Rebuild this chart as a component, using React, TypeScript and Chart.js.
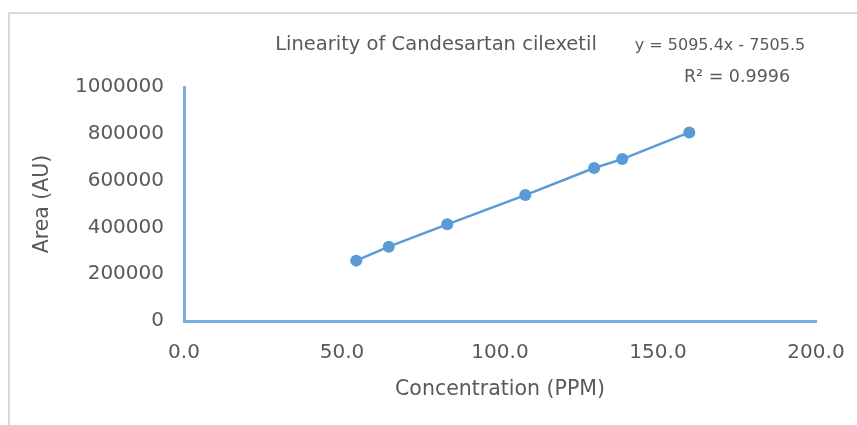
import React, { useEffect, useRef } from "react";
import { Chart, registerables } from "chart.js";

Chart.register(...registerables);

const concentrations = [54.5, 64.8, 83.3, 108.0, 129.8, 138.7, 159.9];
const areas = [258000, 317500, 413000, 538000, 654000, 692000, 806000];
const xTicks = [0, 50, 100, 150, 200];
const yTicks = [0, 200000, 400000, 600000, 800000, 1000000];
const chartTitle = "Linearity of Candesartan cilexetil";
const equationText = "y = 5095.4x - 7505.5";
const r2Text = "R² = 0.9996";
const xTitle = "Concentration (PPM)";
const yTitle = "Area (AU)";

const FONT = "'DejaVu Sans', sans-serif";
const TEXT = "#595959";
const AXIS = "#78aee0";
const SERIES = "#5b9bd5";

const overlay = {
  id: "overlay",
  beforeDraw(chart: any) {
    const ctx = chart.ctx;
    ctx.save();
    ctx.fillStyle = "#ffffff";
    ctx.fillRect(0, 0, chart.width, chart.height);
    ctx.strokeStyle = "#d9d9d9";
    ctx.lineWidth = 2;
    ctx.beginPath();
    ctx.moveTo(9, chart.height);
    ctx.lineTo(9, 13);
    ctx.lineTo(chart.width, 13);
    ctx.stroke();
    ctx.restore();
  },
  afterDraw(chart: any) {
    const ctx = chart.ctx;
    ctx.save();
    ctx.fillStyle = TEXT;
    ctx.textAlign = "center";
    ctx.textBaseline = "middle";
    ctx.font = `19.5px ${FONT}`;
    ctx.fillText(chartTitle, 436, 45);
    ctx.font = `16px ${FONT}`;
    ctx.fillText(equationText, 720, 46);
    ctx.font = `17.5px ${FONT}`;
    ctx.fillText(r2Text, 737, 77);
    ctx.restore();
  },
};

export default function App() {
  const ref = useRef<HTMLCanvasElement | null>(null);
  useEffect(() => {
    document.body.style.margin = "0";
    const canvas = ref.current;
    if (!canvas) return;
    const chart = new Chart(canvas, {
      type: "scatter",
      data: {
        datasets: [
          {
            data: concentrations.map((x, i) => ({ x, y: areas[i] })),
            showLine: true,
            borderColor: SERIES,
            backgroundColor: SERIES,
            borderWidth: 2.5,
            pointRadius: 6,
            pointBorderWidth: 0,
          },
        ],
      },
      options: {
        animation: false,
        responsive: false,
        events: [],
        layout: { padding: { left: 0, right: 41, top: 87, bottom: 0 } },
        plugins: { legend: { display: false }, tooltip: { enabled: false } },
        scales: {
          x: {
            type: "linear",
            min: 0,
            max: 200,
            afterBuildTicks: (s: any) => {
              s.ticks = xTicks.map((v) => ({ value: v }));
            },
            afterFit: (s: any) => {
              s.height = 104;
              s.paddingLeft = 0;
              s.paddingRight = 0;
            },
            grid: { color: "transparent", drawTicks: false },
            border: { display: true, color: AXIS, width: 3 },
            ticks: {
              color: TEXT,
              font: { family: FONT, size: 20 },
              padding: 20,
              maxRotation: 0,
              callback: (v: any) => Number(v).toFixed(1),
            },
            title: {
              display: true,
              text: xTitle,
              color: TEXT,
              font: { family: FONT, size: 20.5 },
              padding: { top: 0, bottom: 23 },
            },
          },
          y: {
            type: "linear",
            min: 0,
            max: 1000000,
            afterBuildTicks: (s: any) => {
              s.ticks = yTicks.map((v) => ({ value: v }));
            },
            afterFit: (s: any) => {
              s.width = 184;
              s.paddingTop = 0;
              s.paddingBottom = 0;
            },
            grid: { color: "transparent", drawTicks: false },
            border: { display: true, color: AXIS, width: 3 },
            ticks: {
              color: TEXT,
              font: { family: FONT, size: 20 },
              padding: 20,
              callback: (v: any) => String(v),
            },
            title: {
              display: true,
              text: yTitle,
              color: TEXT,
              font: { family: FONT, size: 20.5 },
              padding: { top: 30, bottom: 0 },
            },
          },
        },
      },
      plugins: [overlay],
    });
    return () => chart.destroy();
  }, []);
  return <canvas ref={ref} width={857} height={425} style={{ display: "block" }} />;
}
